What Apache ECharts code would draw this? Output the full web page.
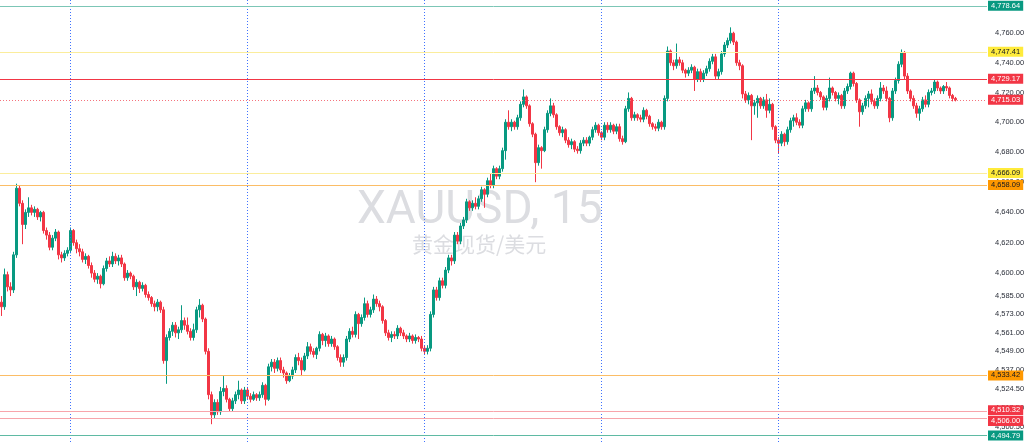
<!DOCTYPE html>
<html><head><meta charset="utf-8">
<script src="https://cdn.jsdelivr.net/npm/echarts@6/dist/echarts.min.js"></script>
<style>html,body{margin:0;padding:0;background:#fff}#c{width:1024px;height:442px}</style>
</head><body><div id="c"></div>
<script>
// [open, close, low, high] per 15-minute candle, split by session
const session0 = [
[4581,4578,4572,4585],[4578,4599,4576,4603],[4599,4591,4588,4601],[4591,4589,4585,4594],[4589,4612,4587,4614],
[4612,4656,4610,4659],[4656,4646,4644,4658],[4646,4632,4619,4648],[4632,4640,4629,4642],[4640,4643,4637,4650],
[4643,4640,4638,4645],[4640,4642,4637,4644],[4642,4637,4635,4643],[4637,4640,4634,4641],[4640,4628,4626,4641],
[4628,4625,4622,4630],[4625,4617,4615,4627],[4617,4623,4615,4625],[4623,4627,4621,4629],[4627,4612,4609,4628],
[4612,4610,4607,4614],[4610,4613,4608,4615],[4613,4615,4611,4617]
];
const session1 = [
[4615,4628,4613,4630],[4628,4620,4618,4629],[4620,4616,4613,4622],[4616,4614,4611,4619],[4614,4609,4607,4616],
[4609,4611,4606,4613],[4611,4605,4603,4612],[4605,4600,4597,4607],[4600,4596,4594,4602],[4596,4598,4593,4600],
[4598,4593,4590,4599],[4593,4603,4592,4605],[4603,4608,4601,4610],[4608,4606,4604,4611],[4606,4611,4604,4614],
[4611,4608,4606,4613],[4608,4610,4605,4612],[4610,4606,4604,4612],[4606,4597,4595,4607],[4597,4600,4595,4602],
[4600,4598,4596,4601],[4598,4591,4589,4599],[4591,4594,4585,4596],[4594,4590,4587,4595],[4590,4592,4588,4594],
[4592,4586,4584,4593],[4586,4584,4582,4588],[4584,4580,4578,4585],[4580,4578,4575,4582],[4578,4581,4575,4583],
[4581,4576,4574,4582],[4576,4543,4541,4578],[4543,4558,4528,4560],[4558,4562,4556,4564],[4562,4566,4559,4568],
[4566,4561,4558,4568],[4561,4563,4557,4565],[4563,4569,4561,4579],[4569,4566,4563,4571],[4566,4562,4560,4571],
[4562,4558,4556,4564],[4558,4563,4556,4567],[4563,4576,4561,4578],[4576,4579,4571,4583],[4579,4570,4568,4580],
[4570,4549,4547,4571],[4549,4521,4518,4551],[4521,4508,4502,4523],[4508,4516,4506,4518],[4516,4510,4508,4518],
[4510,4523,4508,4526],[4523,4525,4520,4533],[4525,4518,4516,4527],[4518,4512,4510,4519],[4512,4517,4510,4519],
[4517,4521,4515,4523],[4521,4524,4518,4530],[4524,4517,4515,4525],[4517,4524,4515,4526]
];
const session2 = [
[4524,4520,4518,4526],[4520,4518,4516,4522],[4518,4521,4517,4523],[4521,4519,4517,4522],[4519,4521,4517,4523],
[4521,4527,4519,4529],[4527,4518,4514,4528],[4518,4539,4517,4541],[4539,4542,4536,4544],[4542,4538,4535,4544],
[4538,4543,4536,4545],[4543,4537,4535,4545],[4537,4535,4532,4539],[4535,4530,4528,4536],[4530,4533,4529,4535],
[4533,4537,4531,4539],[4537,4545,4535,4547],[4545,4543,4540,4548],[4543,4537,4533,4545],[4537,4546,4536,4548],
[4546,4552,4544,4555],[4552,4549,4547,4554],[4549,4547,4545,4551],[4547,4551,4544,4552],[4551,4560,4549,4562],
[4560,4556,4553,4561],[4556,4559,4552,4561],[4559,4554,4552,4560],[4554,4557,4552,4559],[4557,4552,4550,4558],
[4552,4545,4543,4553],[4545,4542,4539,4547],[4542,4545,4539,4547],[4545,4557,4543,4559],[4557,4562,4555,4564],
[4562,4560,4558,4565],[4560,4573,4558,4575],[4573,4567,4557,4574],[4567,4571,4565,4573],[4571,4580,4569,4584],
[4580,4573,4571,4582],[4573,4576,4571,4578],[4576,4583,4574,4586],[4583,4580,4578,4585],[4580,4578,4575,4582],
[4578,4569,4567,4579],[4569,4561,4559,4570],[4561,4558,4556,4563],[4558,4560,4555,4562],[4560,4559,4557,4562],
[4559,4564,4557,4566],[4564,4561,4559,4565],[4561,4559,4557,4563],[4559,4557,4555,4560],[4557,4559,4555,4561],
[4559,4556,4554,4560],[4556,4558,4554,4560],[4558,4557,4555,4559],[4557,4551,4549,4559]
];
const session3 = [
[4551,4549,4547,4553],[4549,4551,4547,4553],[4551,4573,4549,4575],[4573,4589,4571,4591],[4589,4584,4582,4591],
[4584,4595,4582,4597],[4595,4592,4590,4597],[4592,4602,4590,4604],[4602,4610,4600,4612],[4610,4608,4605,4612],
[4608,4625,4606,4627],[4625,4621,4619,4627],[4621,4631,4619,4633],[4631,4635,4629,4637],[4635,4647,4633,4649],
[4647,4643,4641,4648],[4643,4646,4641,4648],[4646,4644,4642,4650],[4644,4649,4642,4651],[4649,4655,4647,4657],
[4655,4652,4643,4656],[4652,4661,4650,4663],[4661,4658,4656,4666],[4658,4669,4656,4671],[4669,4664,4662,4670],
[4664,4669,4662,4671],[4669,4681,4667,4683],[4681,4700,4675,4702],[4700,4697,4695,4708],[4697,4700,4694,4702],
[4700,4697,4695,4701],[4697,4703,4695,4705],[4703,4712,4701,4714],[4712,4717,4710,4722],[4717,4711,4709,4718],
[4711,4699,4697,4712],[4699,4692,4690,4700],[4692,4673,4660,4693],[4673,4683,4671,4685],[4683,4681,4669,4684],
[4681,4695,4680,4697],[4695,4706,4693,4708],[4706,4711,4704,4716],[4711,4705,4703,4713],[4705,4697,4695,4706],
[4697,4693,4691,4698],[4693,4695,4690,4697],[4695,4688,4686,4696],[4688,4685,4683,4690],[4685,4687,4682,4689],
[4687,4682,4680,4688],[4682,4681,4679,4684],[4681,4686,4679,4688],[4686,4688,4684,4690],[4688,4686,4684,4690],
[4686,4690,4684,4691],[4690,4695,4688,4697],[4695,4698,4693,4700],[4698,4693,4691,4699]
];
const session4 = [
[4693,4690,4688,4694],[4690,4698,4688,4700],[4698,4695,4693,4700],[4695,4698,4693,4700],[4698,4694,4692,4699],
[4694,4697,4692,4699],[4697,4689,4687,4699],[4689,4687,4685,4691],[4687,4709,4686,4711],[4709,4716,4707,4720],
[4716,4703,4701,4717],[4703,4705,4701,4707],[4705,4703,4701,4706],[4703,4702,4700,4705],[4702,4708,4700,4710],
[4708,4704,4702,4709],[4704,4699,4697,4705],[4699,4697,4695,4700],[4697,4696,4694,4699],[4696,4700,4694,4702],
[4700,4697,4695,4701],[4697,4716,4695,4718],[4716,4748,4714,4751],[4748,4740,4738,4749],[4740,4738,4735,4742],
[4738,4742,4736,4753],[4742,4740,4738,4744],[4740,4735,4733,4742],[4735,4733,4730,4736],[4733,4735,4731,4737],
[4735,4737,4733,4739],[4737,4729,4721,4738],[4729,4734,4727,4736],[4734,4729,4727,4736],[4729,4733,4727,4735],
[4733,4736,4731,4738],[4736,4741,4734,4743],[4741,4744,4739,4746],[4744,4731,4729,4746],[4731,4734,4729,4736],
[4734,4746,4732,4748],[4746,4752,4744,4754],[4752,4755,4750,4757],[4755,4760,4753,4764],[4760,4754,4752,4761],
[4754,4740,4738,4755],[4740,4738,4735,4742],[4738,4719,4716,4739],[4719,4715,4713,4721],[4715,4718,4712,4720],
[4718,4711,4688,4719],[4711,4713,4705,4715],[4713,4716,4703,4718],[4716,4711,4709,4717],[4711,4715,4709,4717],
[4715,4708,4703,4719],[4708,4712,4706,4716],[4712,4697,4695,4713],[4697,4688,4686,4698]
];
const session5 = [
[4688,4686,4679,4690],[4686,4692,4684,4694],[4692,4687,4684,4693],[4687,4695,4685,4697],[4695,4701,4693,4703],
[4701,4703,4697,4705],[4703,4700,4698,4706],[4700,4698,4696,4702],[4698,4709,4696,4711],[4709,4713,4707,4715],
[4713,4709,4707,4714],[4709,4721,4707,4723],[4721,4723,4719,4731],[4723,4720,4718,4725],[4720,4717,4715,4721],
[4717,4710,4708,4718],[4710,4716,4708,4718],[4716,4723,4714,4730],[4723,4720,4718,4724],[4720,4716,4714,4721],
[4716,4718,4712,4720],[4718,4711,4709,4719],[4711,4721,4709,4723],[4721,4724,4719,4726],[4724,4733,4722,4734],
[4733,4726,4724,4734],[4726,4715,4713,4727],[4715,4707,4697,4716],[4707,4711,4705,4713],[4711,4716,4709,4718],
[4716,4719,4710,4721],[4719,4714,4712,4722],[4714,4711,4709,4716],[4711,4716,4709,4718],[4716,4723,4714,4727],
[4723,4721,4719,4725],[4721,4716,4714,4724],[4716,4703,4700,4717],[4703,4721,4701,4723],[4721,4728,4719,4730],
[4728,4739,4726,4741],[4739,4747,4737,4749],[4747,4731,4729,4748],[4731,4721,4719,4733],[4721,4716,4714,4722],
[4716,4711,4709,4718],[4711,4706,4703,4713],[4706,4709,4701,4711],[4709,4715,4707,4717],[4715,4712,4710,4718],
[4712,4720,4710,4722],[4720,4721,4718,4723],[4721,4727,4719,4729],[4727,4723,4721,4728],[4723,4721,4719,4724],
[4721,4724,4719,4725],[4724,4723,4721,4727],[4723,4718,4716,4724],[4718,4716,4714,4719],[4716,4715.03,4714,4717]
];
// candle indices where a new session starts (vertical separators)
const sessionStarts = [23, 82, 141, 200, 259];
// price-scale tick labels
const tickValues = [4760, 4740, 4720, 4700, 4680, 4660, 4640, 4620, 4600, 4585, 4573, 4561, 4549, 4537, 4524.5, 4512.5, 4500.5];
// horizontal price levels with tags
const levelValues = [4778.64, 4747.41, 4729.17, 4715.03, 4666.09, 4658.09, 4533.42, 4510.32, 4506.00, 4494.79];
const watermarkTitle = 'XAUUSD, 15';
const watermarkSub = '黄金现货/美元';

// ----- styling -----
const UP = '#089981', DOWN = '#F23645';
const levelStyles = [
  {line: '#7cc6b6', type: 'solid', bg: '#089981', fg: '#ffffff', dy: 0},
  {line: '#fbed9c', type: 'solid', bg: '#ffeb3b', fg: '#131722', dy: 0},
  {line: '#F23645', type: 'solid', bg: '#F23645', fg: '#ffffff', dy: 0},
  {line: '#f5737d', type: [1, 2], bg: '#F23645', fg: '#ffffff', dy: 0},
  {line: '#fbed9c', type: 'solid', bg: '#ffeb3b', fg: '#131722', dy: 0},
  {line: '#fbbd66', type: 'solid', bg: '#ff9800', fg: '#131722', dy: 0},
  {line: '#fbbd66', type: 'solid', bg: '#ff9800', fg: '#131722', dy: 0},
  {line: '#f8a5ab', type: 'solid', bg: '#F23645', fg: '#ffffff', dy: -1},
  {line: '#f8a5ab', type: 'solid', bg: '#F23645', fg: '#ffffff', dy: 3},
  {line: '#5fbaa3', type: 'solid', bg: '#089981', fg: '#ffffff', dy: 0}
];

const candles = [].concat(session0, session1, session2, session3, session4, session5);
const slotCount = 329;
const slots = Array.from({length: slotCount}, (_, i) => String(i));
const fmt = v => Number(v).toLocaleString('en-US', {minimumFractionDigits: 2, maximumFractionDigits: 2});
const FONT = 'Liberation Sans';

const markData = [];
sessionStarts.forEach(i => markData.push({
  xAxis: i,
  lineStyle: {color: '#2962FF', type: [1, 2], width: 1, opacity: 0.9},
  label: {show: false}
}));
tickValues.forEach(v => markData.push({
  yAxis: v,
  lineStyle: {color: 'rgba(0,0,0,0)', width: 0},
  label: {show: true, position: 'end', distance: 8, formatter: fmt(v), color: '#2a2e39',
          fontSize: 7.5, fontFamily: FONT}
}));
levelValues.forEach((v, k) => {
  const s = levelStyles[k];
  markData.push({
    yAxis: v,
    lineStyle: {color: s.line, type: s.type, width: 1},
    label: {show: true, position: 'end', distance: 1, formatter: fmt(v), color: s.fg,
            backgroundColor: s.bg, padding: [1, 3, 0, 3], lineHeight: 9, fontSize: 7.5,
            fontFamily: FONT, offset: [0, s.dy]}
  });
});

const chart = echarts.init(document.getElementById('c'), null, {renderer: 'canvas'});
chart.setOption({
  animation: false,
  backgroundColor: '#ffffff',
  grid: {left: 0, right: 37, top: 0, bottom: 0},
  xAxis: {
    type: 'category', data: slots, boundaryGap: true,
    axisLine: {show: false}, axisTick: {show: false}, axisLabel: {show: false}, splitLine: {show: false}
  },
  yAxis: {
    type: 'log', logBase: 10, min: 4490.6, max: 4782.6,
    axisLine: {show: false}, axisTick: {show: false}, axisLabel: {show: false}, splitLine: {show: false}
  },
  graphic: [
    {type: 'text', z: 0, silent: true, left: 357, top: 188,
     style: {text: watermarkTitle, font: 'normal 46px Roboto', fill: '#dcdde1'}},
    {type: 'text', z: 0, silent: true, left: 412, top: 234,
     style: {text: watermarkSub, font: 'normal 21px "Noto Sans CJK SC"', fill: '#dcdde1'}}
  ],
  series: [{
    type: 'candlestick',
    data: candles,
    barWidth: 2,
    clip: false,
    itemStyle: {color: UP, color0: DOWN, borderColor: UP, borderColor0: DOWN, borderWidth: 1},
    emphasis: {disabled: true},
    markLine: {
      silent: true, symbol: ['none', 'none'], animation: false,
      emphasis: {disabled: true},
      data: markData
    }
  }]
});
</script>
</body></html>
